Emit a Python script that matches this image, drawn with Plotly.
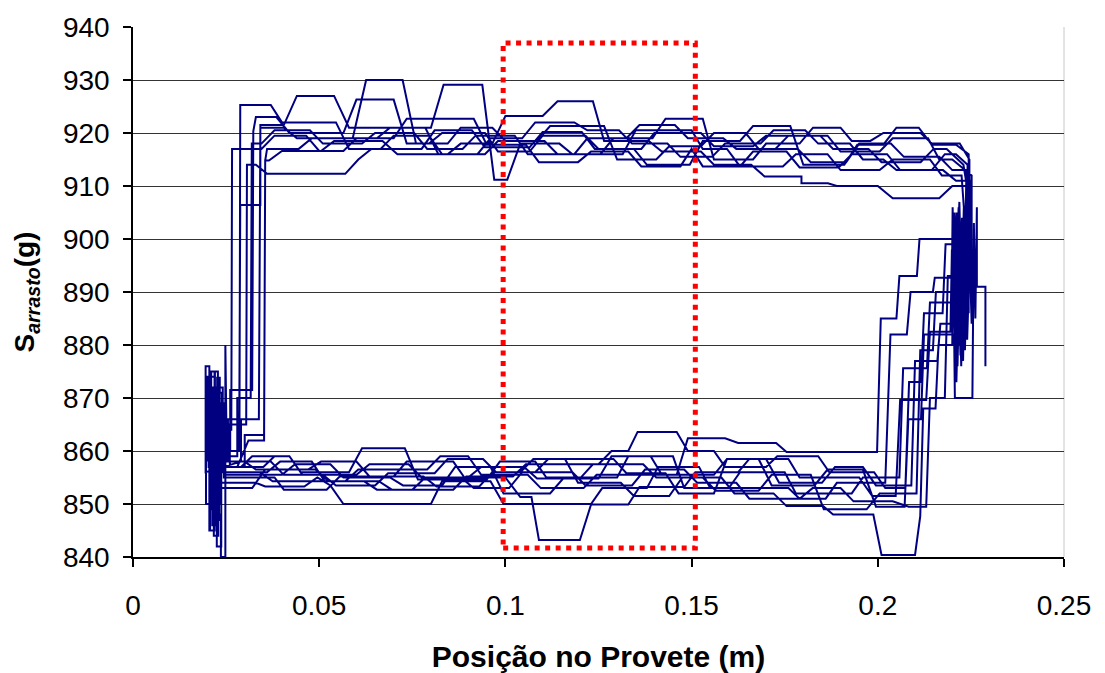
import plotly.graph_objects as go

# Position (m), drag force (g) vertices for each test cycle
cycle1 = [
    [0.0200, 858], [0.0200, 874], [0.0210, 874], [0.0210, 849], [0.0222, 849], [0.0222, 868], [0.0236, 868], [0.0236, 857],
    [0.0262, 857], [0.0350, 857], [0.0380, 859], [0.0420, 859], [0.0450, 856], [0.0580, 856], [0.0615, 860.5], [0.0730, 860.5],
    [0.0765, 854.6], [0.0950, 854.6], [0.0985, 858], [0.1080, 858], [0.1110, 855], [0.1300, 855], [0.1330, 859], [0.1450, 859],
    [0.1480, 853], [0.1600, 853], [0.1630, 856], [0.1750, 856], [0.1780, 852], [0.1930, 852], [0.1960, 855], [0.2058, 855],
    [0.2068, 875.6], [0.2132, 875.6], [0.2140, 888], [0.2205, 888], [0.2212, 905], [0.2220, 881], [0.2229, 903], [0.2238, 884],
    [0.2246, 907], [0.2230, 914],
    [0.2185, 917], [0.2150, 917], [0.2115, 914.5], [0.2010, 914.5], [0.1975, 917], [0.1880, 917], [0.1845, 919.5], [0.1700, 919.5],
    [0.1665, 917.5], [0.1560, 917.5], [0.1525, 920], [0.1400, 920], [0.1365, 917], [0.1250, 917], [0.1215, 919.5], [0.1100, 919.5],
    [0.1065, 916.5], [0.0980, 916.5], [0.0945, 920], [0.0830, 920], [0.0795, 918], [0.0760, 918], [0.0724, 930], [0.0626, 930],
    [0.0590, 919], [0.0440, 919], [0.0405, 921], [0.0350, 921],
    [0.0342, 921], [0.0338, 866], [0.0290, 866], [0.0290, 858],
]
cycle2 = [
    [0.0195, 856], [0.0195, 876], [0.0205, 876], [0.0205, 845], [0.0218, 845], [0.0218, 870], [0.0230, 870], [0.0230, 854],
    [0.0260, 854], [0.0330, 854], [0.0355, 853.3], [0.0460, 853.3], [0.0495, 855], [0.0530, 853.5], [0.0565, 850], [0.0800, 850],
    [0.0830, 854.3], [0.0960, 854.3], [0.0995, 850], [0.1230, 850], [0.1260, 853], [0.1380, 853], [0.1410, 857], [0.1520, 857],
    [0.1550, 853], [0.1760, 853], [0.1790, 851], [0.1860, 851], [0.1890, 854], [0.2020, 854],
    [0.2034, 882], [0.2078, 882], [0.2088, 890], [0.2148, 890], [0.2153, 892.7], [0.2199, 892.7], [0.2201, 906], [0.2207, 878],
    [0.2216, 902], [0.2224, 876], [0.2232, 905], [0.2225, 912],
    [0.2172, 912], [0.2140, 915], [0.2040, 915], [0.2005, 913], [0.1900, 913], [0.1865, 916], [0.1780, 916], [0.1745, 913.7],
    [0.1630, 913.7], [0.1595, 917], [0.1530, 917], [0.1500, 920.5], [0.1350, 920.5], [0.1315, 916], [0.1180, 916], [0.1145, 918],
    [0.1040, 918], [0.1005, 911.2], [0.0970, 911.2], [0.0938, 929.1], [0.0834, 929.1], [0.0800, 921], [0.0580, 921], [0.0540, 927],
    [0.0440, 927], [0.0405, 921.5], [0.0350, 921.5],
    [0.0342, 921.5], [0.0342, 906.4], [0.0288, 906.4], [0.0285, 860], [0.0265, 860],
]
cycle3 = [
    [0.0215, 860], [0.0215, 872], [0.0225, 872], [0.0225, 842], [0.0237, 842], [0.0237, 866], [0.0244, 866], [0.0244, 855],
    [0.0270, 855], [0.0380, 855], [0.0405, 852.7], [0.0520, 852.7], [0.0555, 855.2], [0.0700, 855.2], [0.0735, 858], [0.0860, 858],
    [0.0890, 855], [0.1000, 855], [0.1040, 851.3], [0.1070, 851.3], [0.1090, 843.2], [0.1200, 843.2], [0.1230, 849.9], [0.1330, 849.9],
    [0.1360, 853.2], [0.1480, 853.2], [0.1510, 856], [0.1625, 856], [0.1655, 858.5], [0.1760, 858.5], [0.1790, 855], [0.1950, 855],
    [0.1985, 851.5], [0.2048, 851.5],
    [0.2060, 869.6], [0.2130, 869.6], [0.2140, 882.5], [0.2195, 882.5], [0.2199, 898], [0.2208, 885], [0.2217, 906], [0.2226, 879],
    [0.2235, 904], [0.2243, 889], [0.2243, 910],
    [0.2200, 910], [0.2165, 907.7], [0.2040, 907.7], [0.2000, 910], [0.1890, 910], [0.1866, 910.5], [0.1795, 910.5], [0.1795, 911.8],
    [0.1696, 911.8], [0.1660, 914], [0.1560, 914], [0.1525, 916.5], [0.1420, 916.5], [0.1385, 918.5], [0.1265, 918.5], [0.1235, 926],
    [0.1140, 926], [0.1100, 923.2], [0.1000, 923.2], [0.0965, 918], [0.0880, 918], [0.0845, 916], [0.0710, 916], [0.0670, 918.5],
    [0.0540, 918.5], [0.0505, 916.6], [0.0400, 916.6], [0.0365, 914.8], [0.0355, 914.8],
    [0.0352, 862], [0.0310, 862], [0.0280, 857],
]
cycle4 = [
    [0.0203, 857], [0.0203, 871], [0.0212, 871], [0.0212, 851], [0.0226, 851], [0.0226, 873.8], [0.0233, 873.8], [0.0233, 858],
    [0.0262, 858], [0.0300, 858], [0.0330, 856.5], [0.0490, 856.5], [0.0525, 854.3], [0.0660, 854.3], [0.0695, 852.7], [0.0860, 852.7],
    [0.0895, 855.2], [0.1020, 855.2], [0.1055, 857.5], [0.1250, 857.5], [0.1285, 860], [0.1330, 860], [0.1355, 863.6], [0.1460, 863.6],
    [0.1490, 860], [0.1560, 860], [0.1590, 857], [0.1700, 857], [0.1730, 859], [0.1840, 859], [0.1870, 856], [0.1990, 856],
    [0.2020, 853], [0.2074, 853],
    [0.2084, 873], [0.2116, 873], [0.2124, 886], [0.2174, 886], [0.2182, 899], [0.2208, 899], [0.2210, 889], [0.2219, 907],
    [0.2228, 880], [0.2237, 902], [0.2246, 891], [0.2246, 915],
    [0.2220, 918], [0.2145, 918], [0.2115, 920], [0.2015, 920], [0.1980, 918.5], [0.1930, 918.5], [0.1900, 921], [0.1826, 921],
    [0.1790, 918], [0.1700, 918], [0.1665, 915], [0.1560, 915], [0.1530, 922.7], [0.1430, 922.7], [0.1395, 919], [0.1290, 919],
    [0.1255, 916], [0.1140, 916], [0.1105, 918.5], [0.1000, 918.5], [0.0965, 921], [0.0880, 921], [0.0845, 918], [0.0735, 918],
    [0.0700, 926.3], [0.0600, 926.3], [0.0565, 920], [0.0420, 920], [0.0385, 923], [0.0330, 923],
    [0.0323, 920.3], [0.0320, 871.5], [0.0261, 871.5], [0.0261, 860],
]
cycle5 = [
    [0.0198, 860], [0.0198, 866], [0.0207, 866], [0.0207, 845], [0.0219, 845], [0.0219, 875], [0.0228, 875], [0.0228, 853],
    [0.0258, 853], [0.0320, 853], [0.0355, 856.5], [0.0470, 856.5], [0.0505, 858], [0.0600, 858], [0.0635, 855.2], [0.0780, 855.2],
    [0.0815, 853.3], [0.0930, 853.3], [0.0965, 856], [0.1040, 856], [0.1075, 858.5], [0.1160, 858.5], [0.1195, 854], [0.1310, 854],
    [0.1345, 851.5], [0.1440, 851.5], [0.1475, 855], [0.1580, 855], [0.1615, 852], [0.1720, 852], [0.1755, 849.6], [0.1853, 849.6],
    [0.1880, 848], [0.1988, 848], [0.2010, 840.4], [0.2100, 840.4], [0.2114, 847.7],
    [0.2122, 868], [0.2155, 868], [0.2163, 880], [0.2200, 880], [0.2203, 904], [0.2211, 873], [0.2220, 898], [0.2229, 877],
    [0.2238, 907], [0.2238, 913],
    [0.2200, 913], [0.2165, 915.5], [0.2070, 915.5], [0.2035, 918], [0.1950, 918], [0.1915, 914.5], [0.1820, 914.5], [0.1785, 917],
    [0.1680, 917], [0.1645, 920], [0.1560, 920], [0.1525, 917.5], [0.1440, 917.5], [0.1405, 915], [0.1300, 915], [0.1265, 921.3],
    [0.1120, 921.3], [0.1085, 918.5], [0.0980, 918.5], [0.0945, 916], [0.0830, 916], [0.0795, 919.5], [0.0700, 919.5], [0.0665, 917],
    [0.0580, 917], [0.0545, 922], [0.0400, 922], [0.0370, 925.3], [0.0288, 925.3],
    [0.0286, 866], [0.0255, 866], [0.0255, 858],
]
cycle6 = [
    [0.0205, 858], [0.0205, 868], [0.0216, 868], [0.0216, 847], [0.0231, 847], [0.0231, 872], [0.0241, 872], [0.0241, 856],
    [0.0270, 856], [0.0340, 856], [0.0375, 854.3], [0.0570, 854.3], [0.0605, 856.5], [0.0790, 856.5], [0.0825, 859], [0.0900, 859],
    [0.0935, 855.5], [0.1060, 855.5], [0.1095, 853], [0.1210, 853], [0.1245, 855.5], [0.1460, 855.5], [0.1490, 862.4], [0.1590, 862.4],
    [0.1625, 861.5], [0.1727, 861.5], [0.1755, 859.8], [0.1998, 859.8],
    [0.2008, 885], [0.2050, 885], [0.2058, 893], [0.2105, 893], [0.2112, 900], [0.2205, 900], [0.2209, 880], [0.2218, 905],
    [0.2227, 883], [0.2236, 900], [0.2244, 886], [0.2244, 916],
    [0.2210, 917.8], [0.2145, 917.8], [0.2110, 921], [0.2050, 921], [0.2015, 917.8], [0.1945, 917.8], [0.1910, 914], [0.1800, 914],
    [0.1765, 921.3], [0.1665, 921.3], [0.1630, 918.5], [0.1530, 918.5], [0.1495, 914], [0.1380, 914], [0.1345, 917], [0.1240, 917],
    [0.1205, 920.2], [0.1100, 920.2], [0.1065, 917.3], [0.0945, 917.3], [0.0910, 920.5], [0.0810, 920.5], [0.0775, 917], [0.0640, 917],
    [0.0605, 915], [0.0570, 912.3], [0.0360, 912.3], [0.0330, 914], [0.0306, 914],
    [0.0304, 865], [0.0260, 865], [0.0260, 857],
]
cycle7 = [
    [0.0210, 857], [0.0210, 875], [0.0220, 875], [0.0220, 850], [0.0234, 850], [0.0234, 869], [0.0246, 869], [0.0246, 855.5],
    [0.0275, 855.5], [0.0400, 855.5], [0.0435, 857.5], [0.0530, 857.5], [0.0565, 855], [0.0690, 855], [0.0725, 853.5], [0.0830, 853.5],
    [0.0865, 857], [0.0960, 857], [0.0995, 852], [0.1120, 852], [0.1155, 854.8], [0.1250, 854.8], [0.1285, 859], [0.1390, 859],
    [0.1420, 855.5], [0.1560, 855.5], [0.1595, 858.5], [0.1700, 858.5], [0.1735, 854], [0.1850, 854], [0.1885, 857], [0.1960, 857],
    [0.1995, 853.5], [0.2090, 853.5],
    [0.2100, 877], [0.2160, 877], [0.2168, 884], [0.2210, 884], [0.2214, 903], [0.2222, 878], [0.2231, 906], [0.2240, 881],
    [0.2249, 902], [0.2249, 911],
    [0.2210, 911], [0.2175, 913], [0.2060, 913], [0.2025, 916], [0.1930, 916], [0.1895, 913.5], [0.1790, 913.5], [0.1755, 916.5],
    [0.1665, 916.5], [0.1630, 913.7], [0.1530, 913.7], [0.1500, 917], [0.1470, 913.7], [0.1365, 913.7], [0.1330, 916.5], [0.1230, 916.5],
    [0.1195, 914.5], [0.1090, 914.5], [0.1055, 917.8], [0.0950, 917.8], [0.0915, 922.7], [0.0735, 922.7], [0.0700, 919], [0.0600, 919],
    [0.0565, 916.6], [0.0500, 916.6], [0.0465, 919.5], [0.0380, 919.5], [0.0345, 917], [0.0266, 917],
    [0.0264, 864], [0.0245, 864],
]
cycle8 = [
    [0.0196, 864], [0.0196, 850], [0.0206, 850], [0.0206, 872], [0.0217, 872], [0.0217, 844], [0.0229, 844], [0.0229, 857],
    [0.0258, 857], [0.0290, 857], [0.0320, 859], [0.0420, 859], [0.0455, 855.5], [0.0600, 855.5], [0.0635, 857.5], [0.0740, 857.5],
    [0.0775, 855], [0.0880, 855], [0.0915, 853], [0.1010, 853], [0.1045, 856], [0.1180, 856], [0.1215, 853.5], [0.1340, 853.5],
    [0.1375, 856.5], [0.1480, 856.5], [0.1515, 854], [0.1620, 854], [0.1655, 851], [0.1790, 851], [0.1825, 853], [0.1900, 853],
    [0.1935, 850.5], [0.2040, 850.5], [0.2083, 849.5], [0.2130, 849.5],
    [0.2140, 870], [0.2180, 870], [0.2188, 893], [0.2215, 893], [0.2218, 880], [0.2226, 904], [0.2234, 879], [0.2243, 906],
    [0.2252, 884], [0.2252, 912],
    [0.2200, 915], [0.2165, 915], [0.2135, 919], [0.2040, 919], [0.2005, 916.5], [0.1900, 916.5], [0.1865, 919.5], [0.1760, 919.5],
    [0.1725, 917], [0.1620, 917], [0.1585, 919], [0.1490, 919], [0.1455, 921.5], [0.1360, 921.5], [0.1325, 919], [0.1220, 919],
    [0.1185, 916], [0.1060, 916], [0.1025, 919.5], [0.0920, 919.5], [0.0885, 917], [0.0790, 917], [0.0755, 920], [0.0650, 920],
    [0.0615, 918], [0.0510, 918], [0.0475, 920.5], [0.0380, 920.5], [0.0345, 918], [0.0319, 918],
    [0.0316, 870], [0.0280, 870], [0.0280, 859],
]
cycle9 = [
    [0.0201, 859], [0.0201, 870], [0.0213, 870], [0.0213, 846], [0.0224, 846], [0.0224, 871], [0.0239, 871], [0.0239, 856],
    [0.0268, 856], [0.0360, 856], [0.0395, 858], [0.0480, 858], [0.0515, 854.3], [0.0620, 854.3], [0.0655, 852.7], [0.0750, 852.7],
    [0.0785, 855], [0.0900, 855], [0.0935, 857], [0.1050, 857], [0.1085, 854.8], [0.1200, 854.8], [0.1235, 857.5], [0.1370, 857.5],
    [0.1405, 855], [0.1530, 855], [0.1565, 852.5], [0.1680, 852.5], [0.1715, 855.5], [0.1820, 855.5], [0.1855, 849], [0.1970, 849],
    [0.2005, 852], [0.2104, 852],
    [0.2114, 879], [0.2148, 879], [0.2156, 890], [0.2203, 890], [0.2206, 905], [0.2214, 876], [0.2223, 903], [0.2232, 882],
    [0.2241, 908], [0.2241, 914],
    [0.2210, 916], [0.2180, 916], [0.2145, 913], [0.2050, 913], [0.2015, 915], [0.1960, 915], [0.1925, 918], [0.1840, 918],
    [0.1805, 920.5], [0.1720, 920.5], [0.1685, 918], [0.1590, 918], [0.1555, 915.5], [0.1470, 915.5], [0.1435, 918], [0.1340, 918],
    [0.1305, 920.5], [0.1220, 920.5], [0.1185, 922], [0.1080, 922], [0.1045, 919], [0.0960, 919], [0.0925, 916], [0.0820, 916],
    [0.0785, 921], [0.0690, 921], [0.0655, 919], [0.0480, 919], [0.0445, 917], [0.0360, 917],
    [0.0355, 914.8], [0.0352, 863], [0.0300, 863], [0.0300, 857],
]
cycle10 = [
    [0.0208, 857], [0.0208, 874], [0.0219, 874], [0.0219, 848], [0.0236, 848], [0.0236, 840], [0.0248, 840], [0.0248, 880],
    [0.0252, 858],
    [0.0280, 858], [0.0370, 858], [0.0405, 855.5], [0.0510, 855.5], [0.0545, 853.5], [0.0650, 853.5], [0.0685, 855.8], [0.0810, 855.8],
    [0.0845, 858.5], [0.0940, 858.5], [0.0975, 856], [0.1080, 856], [0.1115, 858.5], [0.1290, 858.5], [0.1325, 855.8], [0.1430, 855.8],
    [0.1465, 852], [0.1560, 852], [0.1595, 858.5], [0.1680, 858.5], [0.1715, 853.5], [0.1830, 853.5], [0.1865, 856.5], [0.1960, 856.5],
    [0.1995, 849.5], [0.2072, 849.5],
    [0.2082, 866], [0.2116, 866], [0.2124, 882], [0.2205, 882], [0.2207, 870], [0.2254, 870], [0.2258, 903], [0.2262, 885],
    [0.2266, 906], [0.2266, 891], [0.2289, 891], [0.2289, 876],
]

cycles = [cycle1, cycle2, cycle3, cycle4, cycle5, cycle6, cycle7, cycle8, cycle9, cycle10]

x_ticks = [0, 0.05, 0.1, 0.15, 0.2, 0.25]
y_ticks = [840, 850, 860, 870, 880, 890, 900, 910, 920, 930, 940]

# highlighted zone (dotted red box)
zone_x = [0.0994, 0.1510]
zone_y = [841.7, 937.0]

xs, ys = [], []
for c in cycles:
    for p in c:
        xs.append(p[0])
        ys.append(p[1])

fig = go.Figure()
fig.add_trace(go.Scatter(x=xs, y=ys, mode="lines",
                         line=dict(color="#000080", width=2),
                         hoverinfo="skip", showlegend=False))

fig.add_shape(type="rect", xref="x", yref="y",
              x0=zone_x[0], x1=zone_x[1], y0=zone_y[0], y1=zone_y[1],
              line=dict(color="#FF0000", width=5, dash="5px,5.5px"),
              fillcolor="rgba(0,0,0,0)", layer="above")
# faint right edge of plot area
fig.add_shape(type="line", xref="paper", yref="paper", x0=1, x1=1, y0=0, y1=1,
              line=dict(color="#c8c8c8", width=1), layer="below")

font_family = "Liberation Sans, Arial, sans-serif"
fig.update_layout(
    width=1105, height=673,
    margin=dict(l=133, r=41, t=27, b=116),
    paper_bgcolor="white", plot_bgcolor="white",
    font=dict(family=font_family, color="black", size=28),
    showlegend=False,
    xaxis=dict(range=[0, 0.25], tickvals=x_ticks, ticktext=[str(v) for v in x_ticks],
               showgrid=False, zeroline=False, automargin=False,
               showline=True, linecolor="black", linewidth=1.5,
               ticks="outside", ticklen=8, tickcolor="black", tickwidth=1.5,
               ticklabelstandoff=15, tickfont=dict(size=28),
               title=dict(text="<b>Posição no Provete (m)</b>", font=dict(size=30), standoff=28)),
    yaxis=dict(range=[840, 940], tickvals=y_ticks, automargin=False,
               showgrid=True, gridcolor="#333333", gridwidth=1, zeroline=False,
               showline=True, linecolor="black", linewidth=1.5,
               ticks="outside", ticklen=8, tickcolor="black", tickwidth=1.5,
               ticklabelstandoff=8, tickfont=dict(size=28),
               title=dict(text="<b>S<sub><i>arrasto</i></sub>(g)</b>", font=dict(size=28), standoff=20)),
)

fig.write_html("out.html", config={"displayModeBar": False},
               post_script="document.body.style.margin='0';document.body.style.overflow='hidden';")
